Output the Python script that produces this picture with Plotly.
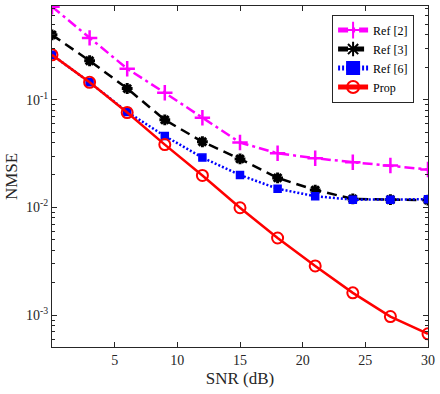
import plotly.graph_objects as go

# SNR grid and NMSE curves
snr = [0, 3, 6, 9, 12, 15, 18, 21, 24, 27, 30]
ref2 = [0.73, 0.375, 0.194, 0.116, 0.068, 0.040, 0.0318, 0.0286, 0.0263, 0.0245, 0.0225]
ref3 = [0.40, 0.23, 0.127, 0.065, 0.0407, 0.0282, 0.0188, 0.0145, 0.0120, 0.0118, 0.0117]
ref6 = [0.261, 0.145, 0.077, 0.046, 0.029, 0.020, 0.0149, 0.0127, 0.0118, 0.0118, 0.0119]
prop = [0.261, 0.145, 0.076, 0.0383, 0.0198, 0.00993, 0.0052, 0.00286, 0.00161, 0.00097, 0.00067]

y_major = [1e-3, 1e-2, 1e-1]
y_major_text = ["10<sup>-3</sup>", "10<sup>-2</sup>", "10<sup>-1</sup>"]
y_minor = [m * d for d in [1e-4, 1e-3, 1e-2, 1e-1] for m in range(2, 10)]
x_ticks = [5, 10, 15, 20, 25, 30]

FONT = "Times New Roman, Liberation Serif, DejaVu Serif, serif"
INK = "#262626"

fig = go.Figure()

fig.add_trace(go.Scatter(
    x=snr, y=ref2, name="Ref [2]", mode="lines+markers",
    line=dict(color="#ff00ff", width=2.5, dash="10px,4px,3px,4px"),
    marker=dict(symbol="cross-thin-open", size=11, line=dict(color="#ff00ff", width=2.5)),
))
fig.add_trace(go.Scatter(
    x=snr, y=ref3, name="Ref [3]", mode="lines+markers",
    line=dict(color="black", width=2.5, dash="10px,6px"),
    marker=dict(symbol="asterisk-open", size=9, line=dict(color="black", width=3)),
))
fig.add_trace(go.Scatter(
    x=snr, y=ref6, name="Ref [6]", mode="lines+markers",
    line=dict(color="#0000ff", width=2.5, dash="2px,2px"),
    marker=dict(symbol="square", size=7, color="#0000ff",
                line=dict(color="#0000ff", width=1.5)),
))
fig.add_trace(go.Scatter(
    x=snr, y=prop, name="Prop", mode="lines+markers",
    line=dict(color="#ff0000", width=2.5),
    marker=dict(symbol="circle-open", size=11, line=dict(color="#ff0000", width=2)),
))

axis_common = dict(
    showline=True, linecolor=INK, linewidth=1.2, mirror="ticks",
    ticks="inside", tickcolor=INK, showgrid=False, zeroline=False,
    tickfont=dict(family=FONT, size=14, color=INK),
)

fig.update_xaxes(
    range=[0, 30], tickvals=x_ticks, ticklen=5,
    title=dict(text="SNR (dB)", font=dict(family=FONT, size=17, color=INK), standoff=5),
    **axis_common,
)
fig.update_yaxes(
    type="log", range=[-3.296, -0.13],
    tickvals=y_major, ticktext=y_major_text, ticklen=5,
    minor=dict(tickmode="array", tickvals=y_minor, ticks="inside", ticklen=3,
               tickcolor=INK, showgrid=False),
    title=dict(text="NMSE", font=dict(family=FONT, size=17, color=INK), standoff=3),
    **axis_common,
)

fig.update_layout(
    width=440, height=394,
    margin=dict(l=52, r=9, t=5, b=47),
    plot_bgcolor="white", paper_bgcolor="white",
    font=dict(family=FONT, color=INK),
    legend=dict(
        x=0.963, y=0.975, xanchor="right", yanchor="top",
        bgcolor="white", bordercolor=INK, borderwidth=1,
        font=dict(family=FONT, size=12, color="black"),
        tracegroupgap=0, itemwidth=30, itemsizing="constant",
    ),
    showlegend=True,
)

# drop the default 8px page margin so the figure sits at the window corner
fig.write_html("out.html", config={"displayModeBar": False},
               post_script="document.body.style.margin='0';")
